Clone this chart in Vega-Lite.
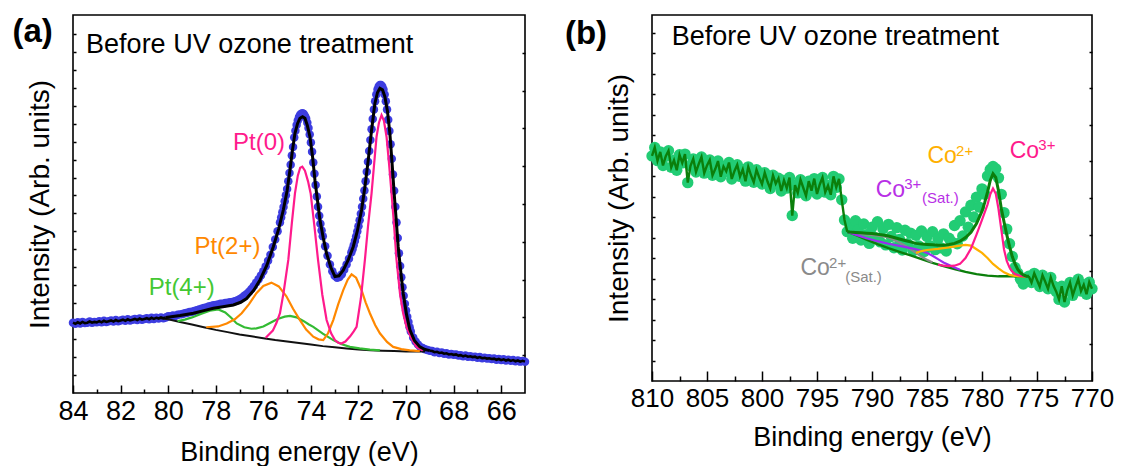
{
"$schema": "https://vega.github.io/schema/vega-lite/v6.json",
"background": "white",
"padding": {"left": 11, "top": 14, "right": 0, "bottom": 0},
"spacing": 33,
"config": {
 "view": {"stroke": "black", "strokeWidth": 1.6},
 "font": "Liberation Sans",
 "axis": {"domain": false, "grid": false, "tickColor": "black", "tickWidth": 1.5, "labelColor": "black", "titleColor": "black", "labelFont": "Liberation Sans", "titleFont": "Liberation Sans", "titleFontWeight": "normal", "labelOverlap": false, "labelFlush": false},
 "text": {"font": "Liberation Sans"}
},
"resolve": {"scale": {"color": "independent"}},
"datasets": {
 "pt_data": [
  {"E":84.0,"I":18.6},{"E":83.9,"I":18.3},{"E":83.8,"I":18.7},{"E":83.7,"I":18.4},{"E":83.6,"I":18.8},{"E":83.5,"I":18.5},{"E":83.4,"I":18.6},{"E":83.3,"I":18.9},{"E":83.2,"I":18.6},{"E":83.1,"I":18.8},
  {"E":83.0,"I":18.7},{"E":82.9,"I":19.0},{"E":82.8,"I":18.7},{"E":82.7,"I":19.1},{"E":82.6,"I":18.8},{"E":82.5,"I":19.0},{"E":82.4,"I":19.2},{"E":82.3,"I":18.9},{"E":82.2,"I":19.3},{"E":82.1,"I":19.0},
  {"E":82.0,"I":19.2},{"E":81.9,"I":19.4},{"E":81.8,"I":19.1},{"E":81.7,"I":19.5},{"E":81.6,"I":19.2},{"E":81.5,"I":19.4},{"E":81.4,"I":19.6},{"E":81.3,"I":19.3},{"E":81.2,"I":19.7},{"E":81.1,"I":19.4},
  {"E":81.0,"I":19.6},{"E":80.9,"I":19.8},{"E":80.8,"I":19.5},{"E":80.7,"I":19.9},{"E":80.6,"I":19.6},{"E":80.5,"I":19.9},{"E":80.4,"I":19.7},{"E":80.3,"I":20.0},{"E":80.2,"I":19.8},{"E":80.1,"I":20.0},
  {"E":80.0,"I":20.3},{"E":79.9,"I":20.3},{"E":79.8,"I":20.5},{"E":79.7,"I":20.4},{"E":79.6,"I":20.7},{"E":79.5,"I":20.8},{"E":79.4,"I":20.9},{"E":79.3,"I":21.1},{"E":79.2,"I":21.2},{"E":79.1,"I":21.4},
  {"E":79.0,"I":21.5},{"E":78.9,"I":21.7},{"E":78.8,"I":21.9},{"E":78.7,"I":22.1},{"E":78.6,"I":22.3},{"E":78.5,"I":22.5},{"E":78.4,"I":22.6},{"E":78.3,"I":22.9},{"E":78.2,"I":23.0},{"E":78.1,"I":23.2},
  {"E":78.0,"I":23.3},{"E":77.9,"I":23.4},{"E":77.8,"I":23.6},{"E":77.7,"I":23.6},{"E":77.6,"I":23.8},{"E":77.5,"I":23.9},{"E":77.4,"I":24.0},{"E":77.3,"I":24.1},{"E":77.2,"I":24.3},{"E":77.1,"I":24.5},
  {"E":77.0,"I":24.8},{"E":76.9,"I":25.2},{"E":76.8,"I":25.7},{"E":76.7,"I":26.2},{"E":76.6,"I":26.8},{"E":76.5,"I":27.5},{"E":76.4,"I":28.3},{"E":76.3,"I":29.2},{"E":76.2,"I":30.1},{"E":76.1,"I":31.1},
  {"E":76.0,"I":32.2},{"E":75.9,"I":33.5},{"E":75.8,"I":35.0},{"E":75.7,"I":36.6},{"E":75.6,"I":38.6},{"E":75.5,"I":40.6},{"E":75.4,"I":42.8},{"E":75.3,"I":45.1},{"E":75.25,"I":46.4},{"E":75.2,"I":47.8},
  {"E":75.15,"I":49.2},{"E":75.1,"I":50.7},{"E":75.05,"I":52.3},{"E":75.0,"I":54.0},{"E":74.95,"I":56.0},{"E":74.9,"I":58.2},{"E":74.85,"I":60.4},{"E":74.8,"I":62.8},{"E":74.75,"I":65.1},{"E":74.7,"I":67.6},
  {"E":74.65,"I":69.4},{"E":74.6,"I":70.9},{"E":74.55,"I":72.1},{"E":74.5,"I":73.0},{"E":74.45,"I":73.6},{"E":74.4,"I":73.9},{"E":74.35,"I":74.0},{"E":74.3,"I":73.8},{"E":74.25,"I":73.3},{"E":74.2,"I":72.6},
  {"E":74.15,"I":71.5},{"E":74.1,"I":70.1},{"E":74.05,"I":68.4},{"E":74.0,"I":66.3},{"E":73.95,"I":63.8},{"E":73.9,"I":61.0},{"E":73.85,"I":58.0},{"E":73.8,"I":55.0},{"E":73.75,"I":52.0},{"E":73.7,"I":49.3},
  {"E":73.65,"I":46.9},{"E":73.6,"I":44.8},{"E":73.55,"I":43.0},{"E":73.5,"I":41.5},{"E":73.4,"I":38.8},{"E":73.3,"I":36.3},{"E":73.2,"I":34.0},{"E":73.1,"I":32.2},{"E":73.0,"I":31.0},{"E":72.9,"I":30.5},
  {"E":72.8,"I":30.7},{"E":72.7,"I":31.4},{"E":72.6,"I":32.6},{"E":72.5,"I":34.0},{"E":72.4,"I":35.5},{"E":72.3,"I":37.2},{"E":72.25,"I":38.0},{"E":72.2,"I":39.1},{"E":72.15,"I":40.2},{"E":72.1,"I":41.4},
  {"E":72.05,"I":42.7},{"E":72.0,"I":44.1},{"E":71.95,"I":45.7},{"E":71.9,"I":47.4},{"E":71.85,"I":49.3},{"E":71.8,"I":51.4},{"E":71.75,"I":53.6},{"E":71.7,"I":56.0},{"E":71.65,"I":58.5},{"E":71.6,"I":61.2},
  {"E":71.55,"I":64.0},{"E":71.5,"I":66.9},{"E":71.45,"I":69.8},{"E":71.4,"I":72.5},{"E":71.35,"I":75.0},{"E":71.3,"I":77.2},{"E":71.25,"I":79.0},{"E":71.2,"I":80.3},{"E":71.15,"I":81.1},{"E":71.1,"I":81.5},
  {"E":71.05,"I":81.5},{"E":71.0,"I":81.1},{"E":70.95,"I":80.3},{"E":70.9,"I":79.0},{"E":70.85,"I":77.2},{"E":70.8,"I":75.0},{"E":70.75,"I":72.3},{"E":70.7,"I":69.3},{"E":70.65,"I":65.8},{"E":70.6,"I":62.0},
  {"E":70.55,"I":57.8},{"E":70.5,"I":53.5},{"E":70.45,"I":49.3},{"E":70.4,"I":45.1},{"E":70.35,"I":41.0},{"E":70.3,"I":37.0},{"E":70.25,"I":33.6},{"E":70.2,"I":30.6},{"E":70.15,"I":28.0},{"E":70.1,"I":25.7},
  {"E":70.05,"I":23.6},{"E":70.0,"I":21.8},{"E":69.95,"I":20.2},{"E":69.9,"I":18.8},{"E":69.85,"I":17.4},{"E":69.8,"I":16.3},{"E":69.7,"I":14.7},{"E":69.6,"I":13.6},{"E":69.5,"I":12.8},{"E":69.4,"I":12.2},
  {"E":69.3,"I":11.9},{"E":69.2,"I":11.6},{"E":69.1,"I":11.4},{"E":69.0,"I":11.2},
  {"E":68.9,"I":11.1},{"E":68.8,"I":10.8},{"E":68.7,"I":10.9},{"E":68.6,"I":10.6},{"E":68.5,"I":10.7},{"E":68.4,"I":10.4},{"E":68.3,"I":10.5},{"E":68.2,"I":10.2},{"E":68.1,"I":10.3},{"E":68.0,"I":10.1},
  {"E":67.9,"I":10.2},{"E":67.8,"I":9.9},{"E":67.7,"I":10.0},{"E":67.6,"I":9.7},{"E":67.5,"I":9.9},{"E":67.4,"I":9.6},{"E":67.3,"I":9.7},{"E":67.2,"I":9.5},{"E":67.1,"I":9.6},{"E":67.0,"I":9.3},
  {"E":66.9,"I":9.5},{"E":66.8,"I":9.2},{"E":66.7,"I":9.3},{"E":66.6,"I":9.1},{"E":66.5,"I":9.2},{"E":66.4,"I":9.0},{"E":66.3,"I":9.1},{"E":66.2,"I":8.8},{"E":66.1,"I":9.0},{"E":66.0,"I":8.7},
  {"E":65.9,"I":8.9},{"E":65.8,"I":8.6},{"E":65.7,"I":8.8},{"E":65.6,"I":8.5},{"E":65.5,"I":8.7},{"E":65.4,"I":8.4},{"E":65.3,"I":8.6},{"E":65.2,"I":8.3},{"E":65.1,"I":8.5},{"E":65.0,"I":8.3}
 ],
 "pt_fit": [
  {"E":80.1,"I":20.0},{"E":79.5,"I":20.5},{"E":78.94,"I":21.1},{"E":78.5,"I":21.8},{"E":78.1,"I":22.4},{"E":77.7,"I":22.8},{"E":77.26,"I":23.3},{"E":76.95,"I":24.0},{"E":76.7,"I":25.0},{"E":76.4,"I":27.2},
  {"E":76.14,"I":29.9},{"E":75.85,"I":33.8},{"E":75.58,"I":38.7},{"E":75.35,"I":43.5},{"E":75.16,"I":48.4},{"E":75.0,"I":53.5},{"E":74.88,"I":59.0},{"E":74.78,"I":64.0},{"E":74.67,"I":68.7},{"E":74.56,"I":71.3},
  {"E":74.46,"I":72.7},{"E":74.35,"I":73.1},{"E":74.25,"I":72.7},{"E":74.15,"I":70.8},{"E":74.04,"I":67.8},{"E":73.93,"I":62.5},{"E":73.83,"I":56.3},{"E":73.72,"I":50.8},{"E":73.62,"I":45.8},{"E":73.48,"I":41.0},
  {"E":73.34,"I":36.9},{"E":73.16,"I":33.2},{"E":72.99,"I":30.8},{"E":72.82,"I":31.0},{"E":72.64,"I":32.5},{"E":72.43,"I":35.2},{"E":72.22,"I":38.7},{"E":72.05,"I":42.8},{"E":71.87,"I":48.4},{"E":71.73,"I":54.5},
  {"E":71.59,"I":61.6},{"E":71.45,"I":69.5},{"E":71.31,"I":76.6},{"E":71.2,"I":79.5},{"E":71.1,"I":80.6},{"E":70.99,"I":80.2},{"E":70.89,"I":78.4},{"E":70.78,"I":74.5},{"E":70.68,"I":68.7},{"E":70.59,"I":61.0},
  {"E":70.5,"I":52.8},{"E":70.41,"I":45.5},{"E":70.33,"I":38.7},{"E":70.22,"I":32.0},{"E":70.12,"I":26.4},{"E":69.98,"I":20.8},{"E":69.84,"I":16.7},{"E":69.65,"I":13.9},{"E":69.42,"I":12.2},{"E":69.2,"I":11.5},
  {"E":69.0,"I":11.2}
 ],
 "pt_bg": [
  {"E":80.5,"I":19.9},{"E":80.0,"I":19.5},{"E":79.5,"I":18.8},{"E":79.0,"I":18.1},{"E":78.5,"I":17.4},{"E":78.0,"I":16.7},{"E":77.5,"I":16.1},{"E":77.0,"I":15.5},{"E":76.5,"I":15.0},{"E":76.0,"I":14.5},
  {"E":75.5,"I":14.0},{"E":75.0,"I":13.6},{"E":74.5,"I":13.2},{"E":74.0,"I":12.8},{"E":73.5,"I":12.4},{"E":73.0,"I":12.1},{"E":72.5,"I":11.8},{"E":72.0,"I":11.5},{"E":71.5,"I":11.3},{"E":71.0,"I":11.2},
  {"E":70.5,"I":11.1},{"E":70.0,"I":11.0},{"E":69.2,"I":11.0}
 ],
 "pt_0": [
  {"E":75.9,"I":14.6},{"E":75.6,"I":16.5},{"E":75.45,"I":18.5},{"E":75.3,"I":21.1},{"E":75.15,"I":26.5},{"E":74.95,"I":35.2},{"E":74.8,"I":45.0},{"E":74.67,"I":52.8},{"E":74.55,"I":57.5},{"E":74.45,"I":59.6},
  {"E":74.36,"I":59.9},{"E":74.25,"I":58.8},{"E":74.12,"I":56.0},{"E":74.01,"I":52.8},{"E":73.85,"I":44.0},{"E":73.7,"I":35.2},{"E":73.52,"I":26.0},{"E":73.34,"I":19.3},{"E":73.15,"I":15.8},{"E":72.99,"I":14.0},
  {"E":72.85,"I":13.3},{"E":72.72,"I":13.1},{"E":72.55,"I":13.6},{"E":72.35,"I":15.0},{"E":72.2,"I":16.3},{"E":72.08,"I":17.5},{"E":71.9,"I":25.0},{"E":71.73,"I":35.2},{"E":71.6,"I":44.0},{"E":71.45,"I":52.8},
  {"E":71.35,"I":60.0},{"E":71.24,"I":67.8},{"E":71.14,"I":71.5},{"E":71.03,"I":73.5},{"E":70.93,"I":72.0},{"E":70.82,"I":67.8},{"E":70.72,"I":61.0},{"E":70.61,"I":52.8},{"E":70.5,"I":44.0},{"E":70.4,"I":35.2},
  {"E":70.25,"I":26.0},{"E":70.12,"I":21.0},{"E":69.98,"I":17.5},{"E":69.8,"I":14.8},{"E":69.56,"I":12.2},{"E":69.3,"I":11.2}
 ],
 "pt_2": [
  {"E":78.4,"I":17.4},{"E":77.9,"I":17.6},{"E":77.54,"I":18.4},{"E":77.2,"I":19.5},{"E":76.91,"I":21.1},{"E":76.6,"I":23.5},{"E":76.29,"I":26.4},{"E":76.0,"I":28.3},{"E":75.66,"I":29.2},{"E":75.35,"I":28.2},
  {"E":75.03,"I":25.6},{"E":74.75,"I":22.3},{"E":74.46,"I":19.3},{"E":74.2,"I":16.8},{"E":73.9,"I":14.9},{"E":73.68,"I":14.2},{"E":73.48,"I":14.0},{"E":73.28,"I":15.8},{"E":73.06,"I":19.3},{"E":72.85,"I":23.5},
  {"E":72.64,"I":27.2},{"E":72.45,"I":30.0},{"E":72.29,"I":31.4},{"E":72.1,"I":30.5},{"E":71.87,"I":27.2},{"E":71.7,"I":24.0},{"E":71.52,"I":21.1},{"E":71.3,"I":18.0},{"E":71.1,"I":15.8},{"E":70.8,"I":13.5},
  {"E":70.54,"I":12.2},{"E":70.2,"I":11.6},{"E":69.84,"I":11.3},{"E":69.42,"I":11.1}
 ],
 "pt_4": [
  {"E":79.6,"I":19.0},{"E":79.3,"I":19.4},{"E":79.0,"I":20.0},{"E":78.6,"I":21.0},{"E":78.25,"I":21.8},{"E":77.89,"I":22.1},{"E":77.6,"I":21.3},{"E":77.35,"I":19.9},{"E":77.12,"I":18.4},{"E":76.8,"I":17.4},
  {"E":76.5,"I":17.0},{"E":76.29,"I":17.1},{"E":76.0,"I":17.6},{"E":75.7,"I":18.6},{"E":75.4,"I":19.6},{"E":75.1,"I":20.2},{"E":74.88,"I":20.4},{"E":74.6,"I":20.0},{"E":74.3,"I":19.0},{"E":74.1,"I":18.2},
  {"E":73.9,"I":17.5},{"E":73.5,"I":15.7},{"E":73.06,"I":14.0},{"E":72.7,"I":12.9},{"E":72.36,"I":12.2},{"E":71.95,"I":11.8},{"E":71.52,"I":11.5},{"E":71.1,"I":11.3}
 ],
 "pt_title": [{"E":83.45,"I":89.9,"t":"Before UV ozone treatment"}],
 "pt_panel": [{"E":85.7,"I":95.6,"t":"(a)"}],
 "pt_labels": [
  {"E":76.18,"I":64.3,"t":"Pt(0)","c":"Pt(0)"},
  {"E":77.51,"I":36.7,"t":"Pt(2+)","c":"Pt(2+)"},
  {"E":79.43,"I":25.9,"t":"Pt(4+)","c":"Pt(4+)"}
 ],
 "co_data": [
  {"E":810.0,"I":61.5},{"E":809.75,"I":63.8},{"E":809.5,"I":60.2},{"E":809.25,"I":62.6},{"E":809.0,"I":58.9},{"E":808.75,"I":61.4},{"E":808.5,"I":62.9},{"E":808.25,"I":58.4},{"E":808.0,"I":60.3},{"E":807.75,"I":57.6},
  {"E":807.5,"I":61.8},{"E":807.25,"I":59.6},{"E":807.0,"I":62.0},{"E":806.75,"I":54.2},{"E":806.5,"I":58.8},{"E":806.25,"I":60.7},{"E":806.0,"I":57.1},{"E":805.75,"I":59.3},{"E":805.5,"I":61.2},{"E":805.25,"I":56.8},
  {"E":805.0,"I":58.9},{"E":804.75,"I":60.4},{"E":804.5,"I":56.2},{"E":804.25,"I":57.9},{"E":804.0,"I":60.1},{"E":803.75,"I":55.8},{"E":803.5,"I":58.6},{"E":803.25,"I":57.3},{"E":803.0,"I":59.7},{"E":802.75,"I":55.2},
  {"E":802.5,"I":57.4},{"E":802.25,"I":59.1},{"E":802.0,"I":55.9},{"E":801.75,"I":57.8},{"E":801.5,"I":54.6},{"E":801.25,"I":58.5},{"E":801.0,"I":56.2},{"E":800.75,"I":54.3},{"E":800.5,"I":57.7},{"E":800.25,"I":55.6},
  {"E":800.0,"I":53.8},{"E":799.75,"I":56.9},{"E":799.5,"I":54.5},{"E":799.25,"I":52.6},{"E":799.0,"I":56.2},{"E":798.75,"I":53.9},{"E":798.5,"I":55.4},{"E":798.25,"I":51.9},{"E":798.0,"I":54.8},{"E":797.75,"I":52.7},
  {"E":797.5,"I":55.6},{"E":797.25,"I":45.2},{"E":797.0,"I":53.5},{"E":796.75,"I":51.4},{"E":796.5,"I":55.0},{"E":796.25,"I":52.8},{"E":796.0,"I":50.6},{"E":795.75,"I":54.6},{"E":795.5,"I":52.0},{"E":795.25,"I":55.3},
  {"E":795.0,"I":51.1},{"E":794.75,"I":53.7},{"E":794.5,"I":55.6},{"E":794.25,"I":51.6},{"E":794.0,"I":53.4},{"E":793.75,"I":50.9},{"E":793.5,"I":55.9},{"E":793.25,"I":52.9},{"E":793.0,"I":55.2},{"E":792.75,"I":49.5},
  {"E":792.5,"I":44.0},{"E":792.25,"I":40.8},{"E":792.0,"I":42.5},{"E":791.75,"I":39.0},{"E":791.5,"I":43.8},{"E":791.25,"I":41.2},{"E":791.0,"I":38.5},{"E":790.75,"I":42.9},{"E":790.5,"I":40.0},{"E":790.25,"I":37.6},
  {"E":790.0,"I":42.0},{"E":789.75,"I":39.2},{"E":789.5,"I":43.5},{"E":789.25,"I":38.0},{"E":789.0,"I":41.6},{"E":788.75,"I":37.2},{"E":788.5,"I":42.8},{"E":788.25,"I":39.5},{"E":788.0,"I":36.4},{"E":787.75,"I":41.9},
  {"E":787.5,"I":38.7},{"E":787.25,"I":35.8},{"E":787.0,"I":41.2},{"E":786.75,"I":37.5},{"E":786.5,"I":40.4},{"E":786.25,"I":35.6},{"E":786.0,"I":39.8},{"E":785.75,"I":36.9},{"E":785.5,"I":41.0},{"E":785.25,"I":35.4},
  {"E":785.0,"I":39.5},{"E":784.75,"I":37.0},{"E":784.5,"I":40.8},{"E":784.25,"I":35.9},{"E":784.0,"I":38.9},{"E":783.75,"I":36.4},{"E":783.5,"I":40.2},{"E":783.25,"I":35.5},{"E":783.0,"I":39.0},{"E":782.75,"I":38.0},
  {"E":782.5,"I":42.5},{"E":782.25,"I":37.5},{"E":782.0,"I":43.8},{"E":781.75,"I":39.6},{"E":781.5,"I":46.2},{"E":781.25,"I":42.0},{"E":781.0,"I":48.0},{"E":780.75,"I":44.8},{"E":780.5,"I":50.2},{"E":780.25,"I":47.5},
  {"E":780.0,"I":52.5},{"E":779.75,"I":51.0},{"E":779.5,"I":56.0},{"E":779.25,"I":57.8},{"E":779.0,"I":58.6},{"E":778.75,"I":58.0},{"E":778.5,"I":55.5},{"E":778.25,"I":51.0},{"E":778.0,"I":46.0},{"E":777.75,"I":41.5},
  {"E":777.5,"I":37.5},{"E":777.25,"I":34.0},{"E":777.0,"I":31.0},{"E":776.75,"I":29.5},{"E":776.5,"I":27.8},{"E":776.25,"I":26.5},{"E":776.0,"I":27.2},{"E":775.75,"I":28.6},{"E":775.5,"I":26.9},{"E":775.25,"I":29.4},
  {"E":775.0,"I":27.6},{"E":774.75,"I":25.8},{"E":774.5,"I":28.9},{"E":774.25,"I":27.1},{"E":774.0,"I":25.2},{"E":773.75,"I":28.3},{"E":773.5,"I":26.0},{"E":773.25,"I":24.4},{"E":773.0,"I":22.3},{"E":772.75,"I":25.9},
  {"E":772.5,"I":21.6},{"E":772.25,"I":24.8},{"E":772.0,"I":26.9},{"E":771.75,"I":23.4},{"E":771.5,"I":25.7},{"E":771.25,"I":27.8},{"E":771.0,"I":24.6},{"E":770.75,"I":26.3},{"E":770.5,"I":23.7},{"E":770.25,"I":27.0},
  {"E":770.0,"I":25.2}
 ],
 "co_fit": [
  {"E":792.25,"I":40.8},{"E":792.0,"I":40.7},{"E":791.5,"I":40.6},{"E":791.0,"I":40.5},{"E":790.5,"I":40.4},{"E":790.0,"I":40.3},{"E":789.5,"I":40.1},{"E":789.0,"I":39.9},{"E":788.5,"I":39.6},{"E":788.0,"I":39.2},
  {"E":787.5,"I":38.8},{"E":787.0,"I":38.4},{"E":786.5,"I":38.0},{"E":786.0,"I":37.6},{"E":785.5,"I":37.4},{"E":785.0,"I":37.3},{"E":784.5,"I":37.2},{"E":784.0,"I":37.1},{"E":783.5,"I":37.1},{"E":783.0,"I":37.3},
  {"E":782.5,"I":37.6},{"E":782.0,"I":38.2},{"E":781.5,"I":39.2},{"E":781.0,"I":40.6},{"E":780.5,"I":43.0},{"E":780.0,"I":46.4},{"E":779.75,"I":48.8},{"E":779.5,"I":51.6},{"E":779.25,"I":54.8},{"E":779.0,"I":56.6},
  {"E":778.75,"I":55.6},{"E":778.5,"I":52.0},{"E":778.25,"I":47.2},{"E":778.0,"I":43.5},{"E":777.75,"I":40.0},{"E":777.5,"I":36.8},{"E":777.25,"I":34.0},{"E":777.0,"I":32.0},{"E":776.75,"I":30.5},{"E":776.5,"I":29.6},
  {"E":776.25,"I":29.0},{"E":776.0,"I":28.7},{"E":775.75,"I":28.6}
 ],
 "co_bg": [
  {"E":792.25,"I":40.8},{"E":791.5,"I":39.9},{"E":790.5,"I":38.6},{"E":789.5,"I":37.4},{"E":788.5,"I":36.3},{"E":787.5,"I":35.3},{"E":786.5,"I":34.3},{"E":785.5,"I":33.3},{"E":784.5,"I":32.3},{"E":783.5,"I":31.4},
  {"E":782.5,"I":30.6},{"E":781.5,"I":29.8},{"E":780.5,"I":29.2},{"E":779.5,"I":28.8},{"E":778.5,"I":28.6},{"E":777.5,"I":28.6},{"E":776.5,"I":28.6},{"E":775.75,"I":28.6}
 ],
 "co_2s": [
  {"E":792.25,"I":40.8},{"E":791.5,"I":40.4},{"E":790.5,"I":40.0},{"E":789.5,"I":39.7},{"E":789.0,"I":39.5},{"E":788.5,"I":39.2},{"E":788.0,"I":38.6},{"E":787.5,"I":37.8},{"E":787.0,"I":37.0},{"E":786.5,"I":36.0},
  {"E":786.0,"I":35.0},{"E":785.5,"I":34.0},{"E":785.0,"I":33.1},{"E":784.5,"I":32.4}
 ],
 "co_3s": [
  {"E":792.25,"I":40.8},{"E":791.5,"I":40.0},{"E":790.5,"I":39.0},{"E":789.5,"I":38.2},{"E":788.5,"I":37.5},{"E":787.5,"I":36.9},{"E":786.5,"I":36.3},{"E":786.0,"I":36.0},{"E":785.5,"I":35.6},{"E":785.0,"I":35.0},
  {"E":784.5,"I":34.2},{"E":784.0,"I":33.3},{"E":783.5,"I":32.4},{"E":783.0,"I":31.7},{"E":782.5,"I":31.0},{"E":782.0,"I":30.4}
 ],
 "co_2": [
  {"E":786.0,"I":35.0},{"E":785.5,"I":35.5},{"E":785.0,"I":35.8},{"E":784.0,"I":36.1},{"E":783.0,"I":36.5},{"E":782.0,"I":37.0},{"E":781.5,"I":37.2},{"E":781.0,"I":37.0},{"E":780.5,"I":36.0},{"E":780.0,"I":35.0},
  {"E":779.5,"I":33.6},{"E":779.0,"I":32.0},{"E":778.5,"I":30.8},{"E":778.0,"I":29.7},{"E":777.5,"I":29.0},{"E":777.0,"I":28.7},{"E":776.5,"I":28.6},{"E":776.0,"I":28.6}
 ],
 "co_3": [
  {"E":784.0,"I":31.8},{"E":783.5,"I":31.5},{"E":783.0,"I":31.4},{"E":782.5,"I":31.5},{"E":782.0,"I":32.0},{"E":781.5,"I":33.6},{"E":781.0,"I":36.2},{"E":780.5,"I":40.0},{"E":780.0,"I":44.0},{"E":779.5,"I":48.2},
  {"E":779.25,"I":51.0},{"E":779.0,"I":52.6},{"E":778.75,"I":51.2},{"E":778.5,"I":47.0},{"E":778.25,"I":41.5},{"E":778.0,"I":36.0},{"E":777.75,"I":32.8},{"E":777.5,"I":31.0},{"E":777.25,"I":29.9},{"E":777.0,"I":29.2},
  {"E":776.5,"I":28.7},{"E":776.0,"I":28.6}
 ],
 "co_title": [{"E":808.2,"I":91.8,"t":"Before UV ozone treatment"}],
 "co_panel": [{"E":816.0,"I":94.8,"t":"(b)"}],
 "co_main": [
  {"E":784.96,"I":59.5,"t":"Co","c":"Co2+"},
  {"E":777.48,"I":61.0,"t":"Co","c":"Co3+"},
  {"E":789.67,"I":50.4,"t":"Co","c":"Co3+sat"},
  {"E":796.5,"I":29.0,"t":"Co","c":"Co2+sat"}
 ],
 "co_small": [
  {"E":782.36,"I":61.6,"t":"2+","c":"Co2+"},
  {"E":774.88,"I":63.0,"t":"3+","c":"Co3+"},
  {"E":787.07,"I":52.5,"t":"3+","c":"Co3+sat"},
  {"E":785.45,"I":48.6,"t":"(Sat.)","c":"Co3+sat"},
  {"E":793.9,"I":31.0,"t":"2+","c":"Co2+sat"},
  {"E":792.44,"I":27.0,"t":"(Sat.)","c":"Co2+sat"}
 ]
},
"hconcat": [
 {
  "width": 452, "height": 378,
  "resolve": {"axis": {"x": "independent", "y": "independent"}},
  "layer": [
   {"data": {"name": "pt_data"},
    "mark": {"type": "circle", "size": 72, "color": "#3d3de0", "opacity": 1},
    "encoding": {
     "x": {"field": "E", "type": "quantitative", "scale": {"domain": [65, 84], "reverse": true, "nice": false, "zero": false},
       "axis": {"orient": "bottom", "title": "Binding energy (eV)", "values": [84,82,80,78,76,74,72,70,68,66],
        "tickSize": -8, "labelFontSize": 27, "titleFontSize": 27, "labelPadding": 13, "titlePadding": 15}},
     "y": {"field": "I", "type": "quantitative", "scale": {"domain": [0, 100], "nice": false, "zero": false},
       "axis": {"orient": "left", "title": "Intensity (Arb. units)", "labels": false, "tickSize": -3,
        "values": [4.75,9.5,14.25,19,23.75,28.5,33.25,38,42.75,47.5,52.25,57,61.75,66.5,71.25,76,80.75,85.5,90.25,95],
        "titleFontSize": 28, "titlePadding": 18}}
    }},
   {"data": {"name": "pt_bg"}, "mark": {"type": "line", "color": "#111111", "strokeWidth": 2},
    "encoding": {"x": {"field": "E", "type": "quantitative", "axis": null}, "y": {"field": "I", "type": "quantitative", "axis": null}}},
   {"data": {"name": "pt_4"}, "mark": {"type": "line", "color": "#33bb33", "strokeWidth": 2.2},
    "encoding": {"x": {"field": "E", "type": "quantitative", "axis": null}, "y": {"field": "I", "type": "quantitative", "axis": null}}},
   {"data": {"name": "pt_2"}, "mark": {"type": "line", "color": "#ff8800", "strokeWidth": 2.2},
    "encoding": {"x": {"field": "E", "type": "quantitative", "axis": null}, "y": {"field": "I", "type": "quantitative", "axis": null}}},
   {"data": {"name": "pt_0"}, "mark": {"type": "line", "color": "#ff1a8c", "strokeWidth": 2.2},
    "encoding": {"x": {"field": "E", "type": "quantitative", "axis": null}, "y": {"field": "I", "type": "quantitative", "axis": null}}},
   {"data": {"name": "pt_data"}, "transform": [{"filter": {"field": "E", "gte": 80.1}}],
    "mark": {"type": "line", "color": "black", "strokeWidth": 2.6},
    "encoding": {
     "x": {"field": "E", "type": "quantitative", "axis": {"orient": "bottom", "title": null, "labels": false, "tickSize": -4, "values": [83,81,79,77,75,73,71,69,67]}},
     "y": {"field": "I", "type": "quantitative", "axis": {"orient": "right", "title": null, "labels": false, "tickSize": -3, "values": [10,20,30,40,50,60,70,80,90]}}}},
   {"data": {"name": "pt_data"}, "transform": [{"filter": {"field": "E", "lte": 69.0}}],
    "mark": {"type": "line", "color": "black", "strokeWidth": 2.6},
    "encoding": {"x": {"field": "E", "type": "quantitative", "axis": null}, "y": {"field": "I", "type": "quantitative", "axis": null}}},
   {"data": {"name": "pt_fit"}, "mark": {"type": "line", "color": "black", "strokeWidth": 3},
    "encoding": {"x": {"field": "E", "type": "quantitative", "axis": null}, "y": {"field": "I", "type": "quantitative", "axis": null}}},
   {"data": {"name": "pt_title"}, "mark": {"type": "text", "align": "left", "baseline": "alphabetic", "fontSize": 27, "color": "black"},
    "encoding": {"x": {"field": "E", "type": "quantitative", "axis": null}, "y": {"field": "I", "type": "quantitative", "axis": null}, "text": {"field": "t"}}},
   {"data": {"name": "pt_panel"}, "mark": {"type": "text", "align": "center", "baseline": "middle", "fontSize": 33, "fontWeight": "bold", "color": "black"},
    "encoding": {"x": {"field": "E", "type": "quantitative", "axis": null}, "y": {"field": "I", "type": "quantitative", "axis": null}, "text": {"field": "t"}}},
   {"data": {"name": "pt_labels"}, "mark": {"type": "text", "align": "center", "baseline": "alphabetic", "fontSize": 24},
    "encoding": {"x": {"field": "E", "type": "quantitative", "axis": null}, "y": {"field": "I", "type": "quantitative", "axis": null}, "text": {"field": "t"},
     "color": {"field": "c", "type": "nominal", "legend": null, "scale": {"domain": ["Pt(0)", "Pt(2+)", "Pt(4+)"], "range": ["#ff1a8c", "#ff8800", "#44c833"]}}}}
  ]
 },
 {
  "width": 440, "height": 366,
  "resolve": {"axis": {"x": "independent", "y": "independent"}},
  "layer": [
   {"data": {"name": "co_data"},
    "mark": {"type": "circle", "size": 130, "color": "#22cc74", "opacity": 1},
    "encoding": {
     "x": {"field": "E", "type": "quantitative", "scale": {"domain": [770, 810], "reverse": true, "nice": false, "zero": false},
       "axis": {"orient": "bottom", "title": "Binding energy (eV)", "values": [810,805,800,795,790,785,780,775,770],
        "tickSize": -10, "labelFontSize": 26, "titleFontSize": 27, "labelPadding": 14, "titlePadding": 13}},
     "y": {"field": "I", "type": "quantitative", "scale": {"domain": [0, 100], "nice": false, "zero": false},
       "axis": {"orient": "left", "title": "Intensity (Arb. units)", "labels": false, "tickSize": -3,
        "values": [5.6,11.2,16.8,22.4,28,33.6,39.2,44.8,50.4,56,61.6,67.2,72.8,78.4,84,89.6,95.2],
        "titleFontSize": 28, "titlePadding": 18}}
    }},
   {"data": {"name": "co_bg"}, "mark": {"type": "line", "color": "#0b7f0b", "strokeWidth": 2.4},
    "encoding": {"x": {"field": "E", "type": "quantitative", "axis": null}, "y": {"field": "I", "type": "quantitative", "axis": null}}},
   {"data": {"name": "co_2s"}, "mark": {"type": "line", "color": "#8a8a8a", "strokeWidth": 2.2},
    "encoding": {"x": {"field": "E", "type": "quantitative", "axis": null}, "y": {"field": "I", "type": "quantitative", "axis": null}}},
   {"data": {"name": "co_3s"}, "mark": {"type": "line", "color": "#9b2cf0", "strokeWidth": 2.2},
    "encoding": {"x": {"field": "E", "type": "quantitative", "axis": null}, "y": {"field": "I", "type": "quantitative", "axis": null}}},
   {"data": {"name": "co_2"}, "mark": {"type": "line", "color": "#ffb000", "strokeWidth": 2.2},
    "encoding": {"x": {"field": "E", "type": "quantitative", "axis": null}, "y": {"field": "I", "type": "quantitative", "axis": null}}},
   {"data": {"name": "co_3"}, "mark": {"type": "line", "color": "#ff1a8c", "strokeWidth": 2.2},
    "encoding": {"x": {"field": "E", "type": "quantitative", "axis": null}, "y": {"field": "I", "type": "quantitative", "axis": null}}},
   {"data": {"name": "co_data"}, "transform": [{"filter": {"field": "E", "gte": 792.25}}],
    "mark": {"type": "line", "color": "#0b7f0b", "strokeWidth": 2.4},
    "encoding": {
     "x": {"field": "E", "type": "quantitative", "axis": {"orient": "bottom", "title": null, "labels": false, "tickSize": -5, "values": [807.5,802.5,797.5,792.5,787.5,782.5,777.5,772.5]}},
     "y": {"field": "I", "type": "quantitative", "axis": {"orient": "right", "title": null, "labels": false, "tickSize": -3, "values": [10,20,30,40,50,60,70,80,90]}}}},
   {"data": {"name": "co_data"}, "transform": [{"filter": {"field": "E", "lte": 775.75}}],
    "mark": {"type": "line", "color": "#0b7f0b", "strokeWidth": 2.4},
    "encoding": {"x": {"field": "E", "type": "quantitative", "axis": null}, "y": {"field": "I", "type": "quantitative", "axis": null}}},
   {"data": {"name": "co_fit"}, "mark": {"type": "line", "color": "#0b7f0b", "strokeWidth": 3},
    "encoding": {"x": {"field": "E", "type": "quantitative", "axis": null}, "y": {"field": "I", "type": "quantitative", "axis": null}}},
   {"data": {"name": "co_title"}, "mark": {"type": "text", "align": "left", "baseline": "alphabetic", "fontSize": 27, "color": "black"},
    "encoding": {"x": {"field": "E", "type": "quantitative", "axis": null}, "y": {"field": "I", "type": "quantitative", "axis": null}, "text": {"field": "t"}}},
   {"data": {"name": "co_panel"}, "mark": {"type": "text", "align": "center", "baseline": "middle", "fontSize": 33, "fontWeight": "bold", "color": "black"},
    "encoding": {"x": {"field": "E", "type": "quantitative", "axis": null}, "y": {"field": "I", "type": "quantitative", "axis": null}, "text": {"field": "t"}}},
   {"data": {"name": "co_main"}, "mark": {"type": "text", "align": "left", "baseline": "alphabetic", "fontSize": 23},
    "encoding": {"x": {"field": "E", "type": "quantitative", "axis": null}, "y": {"field": "I", "type": "quantitative", "axis": null}, "text": {"field": "t"},
     "color": {"field": "c", "type": "nominal", "legend": null, "scale": {"domain": ["Co2+", "Co3+", "Co3+sat", "Co2+sat"], "range": ["#ffb000", "#ff1a8c", "#b830e6", "#8a8a8a"]}}}},
   {"data": {"name": "co_small"}, "mark": {"type": "text", "align": "left", "baseline": "alphabetic", "fontSize": 15},
    "encoding": {"x": {"field": "E", "type": "quantitative", "axis": null}, "y": {"field": "I", "type": "quantitative", "axis": null}, "text": {"field": "t"},
     "color": {"field": "c", "type": "nominal", "legend": null, "scale": {"domain": ["Co2+", "Co3+", "Co3+sat", "Co2+sat"], "range": ["#ffb000", "#ff1a8c", "#b830e6", "#8a8a8a"]}}}}
  ]
 }
]
}
